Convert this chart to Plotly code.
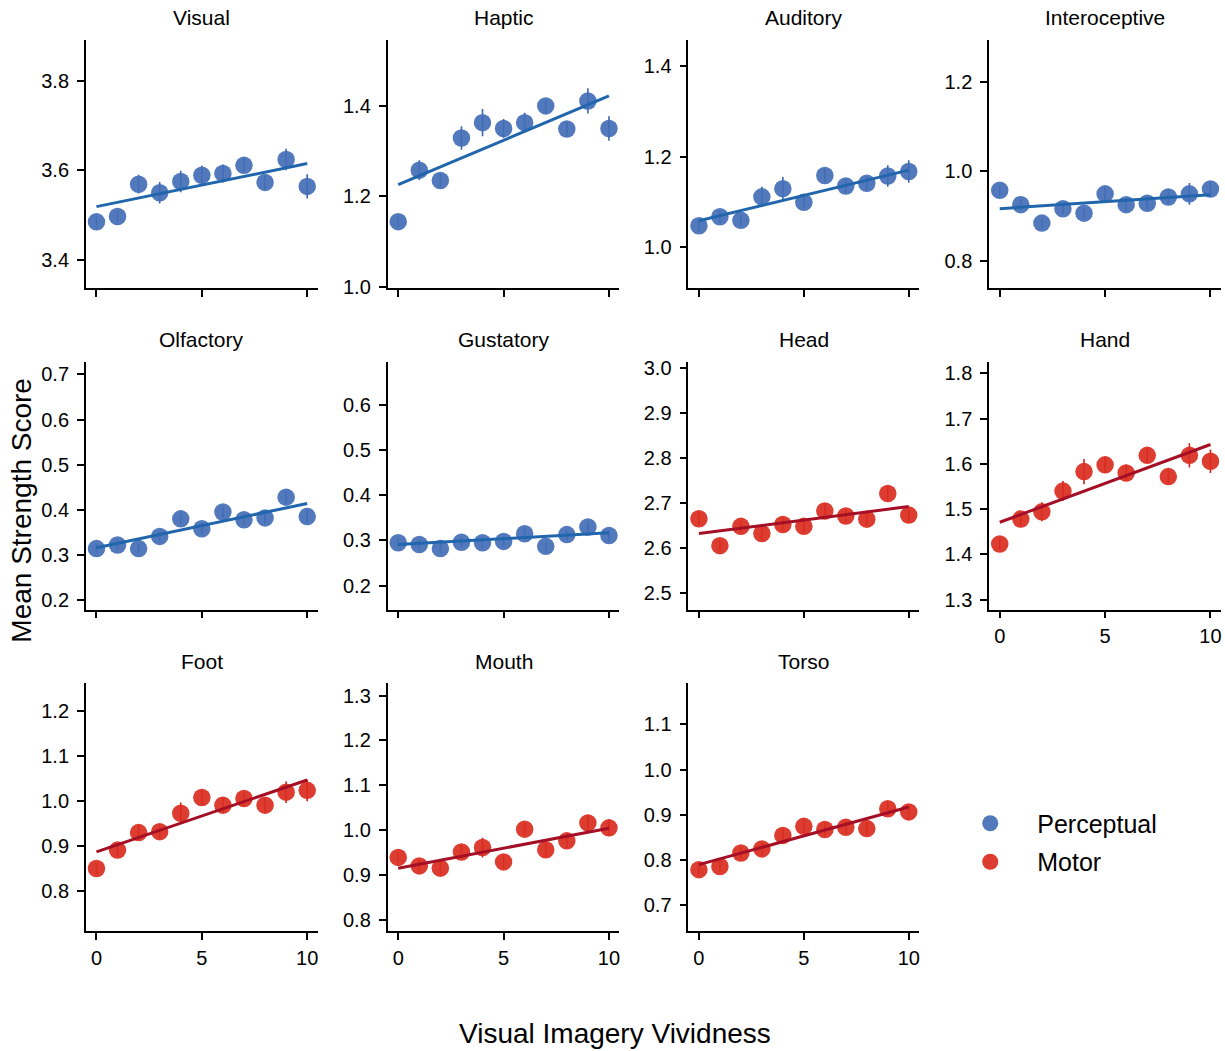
import plotly.graph_objects as go

# ---------------- data ----------------
vividness = list(range(11))
x_ticks = [0, 5, 10]

dimensions = ["Visual", "Haptic", "Auditory", "Interoceptive", "Olfactory", "Gustatory",
              "Head", "Hand", "Foot", "Mouth", "Torso"]
dimension_type = ["Perceptual"] * 6 + ["Motor"] * 5

visual = [3.485, 3.497, 3.569, 3.550, 3.575, 3.589, 3.593, 3.611, 3.573, 3.624, 3.564]
haptic = [1.144, 1.258, 1.235, 1.329, 1.363, 1.350, 1.363, 1.400, 1.349, 1.411, 1.350]
auditory = [1.047, 1.067, 1.059, 1.111, 1.129, 1.099, 1.158, 1.135, 1.141, 1.157, 1.167]
interoceptive = [0.958, 0.926, 0.885, 0.917, 0.907, 0.950, 0.926, 0.929, 0.943, 0.950, 0.961]
olfactory = [0.314, 0.322, 0.314, 0.341, 0.380, 0.358, 0.395, 0.378, 0.382, 0.428, 0.385]
gustatory = [0.295, 0.291, 0.282, 0.296, 0.295, 0.298, 0.315, 0.287, 0.313, 0.330, 0.311]
head = [2.665, 2.605, 2.648, 2.632, 2.652, 2.648, 2.682, 2.671, 2.664, 2.721, 2.673]
hand = [1.423, 1.478, 1.494, 1.540, 1.583, 1.598, 1.580, 1.619, 1.572, 1.619, 1.606]
foot = [0.850, 0.891, 0.930, 0.932, 0.973, 1.008, 0.991, 1.006, 0.991, 1.020, 1.024]
mouth = [0.939, 0.920, 0.915, 0.951, 0.961, 0.929, 1.002, 0.956, 0.976, 1.016, 1.005]
torso = [0.778, 0.785, 0.815, 0.824, 0.854, 0.874, 0.867, 0.872, 0.869, 0.913, 0.906]

visual_se = [0.012, 0.012, 0.021, 0.024, 0.024, 0.021, 0.020, 0.015, 0.015, 0.024, 0.027]
haptic_se = [0.012, 0.022, 0.015, 0.026, 0.030, 0.021, 0.022, 0.015, 0.015, 0.028, 0.027]
auditory_se = [0.012, 0.014, 0.012, 0.022, 0.026, 0.014, 0.014, 0.016, 0.016, 0.024, 0.025]
interoceptive_se = [0.012, 0.012, 0.010, 0.012, 0.012, 0.014, 0.014, 0.014, 0.016, 0.024, 0.017]
olfactory_se = [0.010, 0.010, 0.010, 0.011, 0.012, 0.012, 0.012, 0.012, 0.012, 0.014, 0.014]
gustatory_se = [0.010, 0.010, 0.010, 0.010, 0.010, 0.010, 0.011, 0.011, 0.011, 0.012, 0.012]
head_se = [0.014, 0.014, 0.014, 0.015, 0.015, 0.015, 0.015, 0.015, 0.015, 0.016, 0.016]
hand_se = [0.012, 0.015, 0.021, 0.022, 0.028, 0.018, 0.018, 0.015, 0.015, 0.027, 0.026]
foot_se = [0.012, 0.014, 0.016, 0.016, 0.024, 0.016, 0.016, 0.016, 0.016, 0.024, 0.024]
mouth_se = [0.012, 0.014, 0.014, 0.016, 0.022, 0.014, 0.014, 0.016, 0.016, 0.018, 0.018]
torso_se = [0.010, 0.012, 0.012, 0.014, 0.014, 0.014, 0.014, 0.014, 0.014, 0.016, 0.016]

# regression line values at vividness 0 and 10
fit_at_0 = [3.519, 1.226, 1.058, 0.917, 0.316, 0.291, 2.632, 1.471, 0.887, 0.915, 0.789]
fit_at_10 = [3.615, 1.422, 1.170, 0.948, 0.414, 0.317, 2.692, 1.643, 1.047, 1.004, 0.917]

means = [visual, haptic, auditory, interoceptive, olfactory, gustatory,
         head, hand, foot, mouth, torso]
errors = [visual_se, haptic_se, auditory_se, interoceptive_se, olfactory_se, gustatory_se,
          head_se, hand_se, foot_se, mouth_se, torso_se]

# ---------------- styling ----------------
FONT = "Liberation Sans, Arial, Helvetica, sans-serif"
W, H = 1225, 1051
col_px = [(86, 318), (388, 620), (689, 920), (990, 1222)]
row_px = [(35.4, 286.8), (361.9, 613.3), (688.3, 939.8)]
y_ranges = [[3.338, 3.891], [0.998, 1.546], [0.910, 1.458], [0.741, 1.293],
            [0.179, 0.728], [0.147, 0.696], [2.463, 3.014], [1.278, 1.826],
            [0.710, 1.262], [0.774, 1.327], [0.641, 1.191]]
y_dticks = [0.2, 0.2, 0.2, 0.2, 0.1, 0.1, 0.1, 0.1, 0.1, 0.1, 0.1]
show_x_labels = [False] * 7 + [True] * 4

style = {
    "Perceptual": dict(marker="rgba(66,110,182,0.92)", err="#3a66b0", line="#2166ac"),
    "Motor": dict(marker="rgba(218,45,32,0.92)", err="#c8261c", line="#a50f25"),
}

fig = go.Figure()
layout = dict(
    width=W, height=H,
    margin=dict(l=0, r=0, t=0, b=0),
    paper_bgcolor="white", plot_bgcolor="white",
    font=dict(family=FONT, color="black", size=20),
    showlegend=True,
    legend=dict(x=944 / W, y=1 - 807 / H, xanchor="left", yanchor="top",
                font=dict(size=25, family=FONT), tracegroupgap=3,
                itemsizing="trace", itemwidth=84, bgcolor="rgba(0,0,0,0)"),
)
annotations = []
legend_done = set()

for i, name in enumerate(dimensions):
    r, c = divmod(i, 4)
    suffix = "" if i == 0 else str(i + 1)
    x0, x1 = col_px[c]
    yt, yb = row_px[r]
    kind = dimension_type[i]
    st = style[kind]
    show_leg = kind not in legend_done
    legend_done.add(kind)

    fig.add_trace(go.Scatter(
        x=vividness, y=means[i], mode="markers",
        name=kind, legendgroup=kind, showlegend=show_leg,
        marker=dict(size=17.5, color=st["marker"], line=dict(width=0)),
        error_y=dict(type="data", array=errors[i], color=st["err"], thickness=1.6, width=0),
        xaxis="x" + suffix, yaxis="y" + suffix,
    ))
    fig.add_trace(go.Scatter(
        x=[vividness[0], vividness[-1]], y=[fit_at_0[i], fit_at_10[i]], mode="lines",
        line=dict(color=st["line"], width=3), showlegend=False,
        xaxis="x" + suffix, yaxis="y" + suffix,
    ))

    layout["xaxis" + suffix] = dict(
        domain=[x0 / W, x1 / W], anchor="y" + suffix, range=[-0.5, 10.5],
        tickvals=x_ticks, ticks="outside", ticklen=7, tickwidth=1.5, tickcolor="black",
        showticklabels=show_x_labels[i], showline=True, linecolor="black", linewidth=1.8,
        showgrid=False, zeroline=False, tickfont=dict(size=20, family=FONT),
        ticklabelstandoff=1,
    )
    layout["yaxis" + suffix] = dict(
        domain=[1 - yb / H, 1 - yt / H], anchor="x" + suffix, range=y_ranges[i],
        dtick=y_dticks[i], tick0=0, tickformat=".1f",
        ticks="outside", ticklen=7, tickwidth=1.5, tickcolor="black",
        showline=True, linecolor="black", linewidth=1.8,
        showgrid=False, zeroline=False, tickfont=dict(size=20, family=FONT),
        ticklabelstandoff=4,
    )
    annotations.append(dict(
        text=name, x=(x0 + x1) / 2 / W, y=1 - (yt - 22.4) / H, xref="paper", yref="paper",
        xanchor="center", yanchor="middle", showarrow=False,
        font=dict(size=21, family=FONT, color="black"),
    ))

annotations.append(dict(
    text="Mean Strength Score", x=22 / W, y=1 - 512 / H, xref="paper", yref="paper",
    textangle=-90, xanchor="center", yanchor="middle", showarrow=False,
    font=dict(size=28, family=FONT, color="black"),
))
annotations.append(dict(
    text="Visual Imagery Vividness", x=616 / W, y=1 - 1043 / H, xref="paper", yref="paper",
    xanchor="center", yanchor="middle", showarrow=False,
    font=dict(size=28, family=FONT, color="black"),
))
layout["annotations"] = annotations
fig.update_layout(**layout)
fig.write_html("out.html")
